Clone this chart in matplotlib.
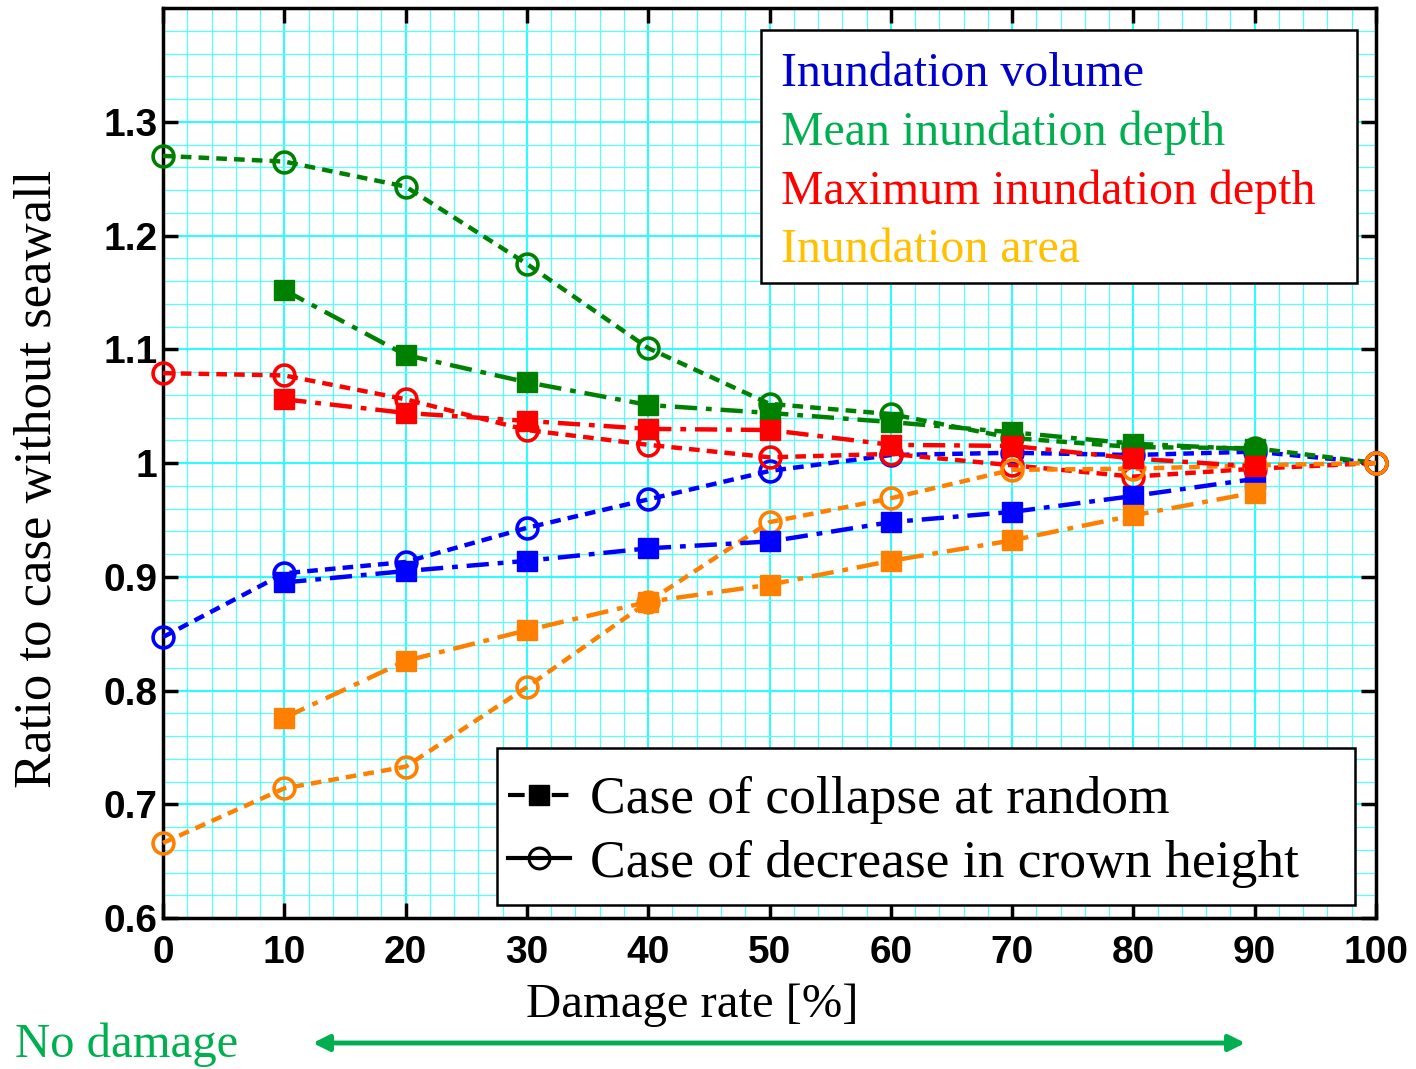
import matplotlib
matplotlib.use("Agg")
import matplotlib.pyplot as plt
from matplotlib.lines import Line2D
from matplotlib.patches import FancyArrowPatch, Rectangle
import numpy as np

# ---------------- data ----------------
damage_all = [0, 10, 20, 30, 40, 50, 60, 70, 80, 90, 100]
damage_rand = [10, 20, 30, 40, 50, 60, 70, 80, 90]

# Case of decrease in crown height (circles)
crown_volume = [0.847, 0.903, 0.913, 0.943, 0.968, 0.993, 1.007, 1.009, 1.007, 1.010, 1.000]
crown_mean = [1.270, 1.265, 1.243, 1.175, 1.101, 1.052, 1.043, 1.022, 1.014, 1.013, 1.000]
crown_max = [1.079, 1.077, 1.056, 1.029, 1.016, 1.005, 1.008, 0.998, 0.988, 0.995, 1.000]
crown_area = [0.666, 0.714, 0.733, 0.803, 0.878, 0.948, 0.969, 0.994, 0.995, 0.998, 1.000]

# Case of collapse at random (squares)
rand_volume = [0.895, 0.905, 0.914, 0.925, 0.931, 0.948, 0.957, 0.971, 0.986]
rand_mean = [1.152, 1.095, 1.071, 1.051, 1.044, 1.036, 1.027, 1.017, 1.012]
rand_max = [1.056, 1.044, 1.037, 1.030, 1.029, 1.016, 1.015, 1.004, 0.997]
rand_area = [0.776, 0.826, 0.853, 0.878, 0.893, 0.914, 0.932, 0.954, 0.974]

series_names = ["Inundation volume", "Mean inundation depth",
                "Maximum inundation depth", "Inundation area"]
case_names = ["Case of collapse at random", "Case of decrease in crown height"]
line_colors = ["#0000FF", "#008000", "#FF0000", "#FF8000"]
text_colors = ["#0000CC", "#00B050", "#FF0000", "#FFC000"]

x_ticks = [0, 10, 20, 30, 40, 50, 60, 70, 80, 90, 100]
y_ticks = [0.6, 0.7, 0.8, 0.9, 1.0, 1.1, 1.2, 1.3]
y_tick_labels = ["0.6", "0.7", "0.8", "0.9", "1", "1.1", "1.2", "1.3"]

# ---------------- figure ----------------
W, H = 1416, 1069
fig = plt.figure(figsize=(W / 100, H / 100), dpi=100)
ax = fig.add_axes([163 / W, 1 - 918 / H, (1376 - 163) / W, (918 - 8) / H])

serif = ["Liberation Serif", "DejaVu Serif"]
sans = ["Liberation Sans", "DejaVu Sans"]

ax.set_xlim(0, 100)
ax.set_ylim(0.6, 1.4)

# grid
ax.set_xticks(np.arange(0, 101, 2), minor=True)
ax.set_yticks(np.arange(0.6, 1.4001, 0.02), minor=True)
ax.grid(which="major", color="#22FFFF", lw=1.4, zorder=0)
ax.grid(which="minor", color="#55FFFF", lw=0.9, zorder=0)
ax.set_axisbelow(True)

crown = [crown_volume, crown_mean, crown_max, crown_area]
rand = [rand_volume, rand_mean, rand_max, rand_area]

for vals, c in zip(crown, line_colors):
    ax.plot(damage_all, vals, color=c, lw=3.2, ls=(0, (2.4, 1.6)),
            marker="o", ms=15, mfc="none", mec=c, mew=2.6, clip_on=False, zorder=3)
for vals, c in zip(rand, line_colors):
    ax.plot(damage_rand, vals, color=c, lw=3.2, ls=(0, (5, 2, 1.3, 2)),
            marker="s", ms=14, mfc=c, mec=c, clip_on=False, zorder=4)

ax.set_xticks(x_ticks)
ax.set_yticks(y_ticks)
ax.set_yticklabels(y_tick_labels)
ax.tick_params(which="major", direction="in", length=11, width=2.5,
               top=True, right=True, labelsize=28, pad=12)
ax.tick_params(which="minor", length=0)
for lab in ax.get_xticklabels() + ax.get_yticklabels():
    lab.set_fontfamily(sans)
    lab.set_fontweight("bold")
ax.tick_params(axis="y", pad=4)
for s in ax.spines.values():
    s.set_linewidth(2.5)

# axis labels
fig.text(38 / W, 1 - 479 / H, "Ratio to case without seawall", rotation=90,
         ha="center", va="center", fontsize=38, family=serif)
fig.text(692 / W, 1 - 1005 / H, "Damage rate [%]", ha="center", va="center",
         fontsize=35, family=serif)
fig.text(15 / W, 1 - 1045 / H, "No damage", ha="left", va="center",
         fontsize=35, family=serif, color="#00B050")
arrow = FancyArrowPatch((310 / W, 1 - 1043 / H), (1248 / W, 1 - 1043 / H),
                        transform=fig.transFigure, arrowstyle="<|-|>",
                        mutation_scale=24, color="#00B050", lw=3.5)
fig.add_artist(arrow)

# legend frames
for (x0, y0, x1, y1) in [(761, 30, 1357, 283), (497, 748, 1355, 905)]:
    fig.add_artist(Rectangle((x0 / W, 1 - y1 / H), (x1 - x0) / W, (y1 - y0) / H,
                             transform=fig.transFigure, facecolor="white",
                             edgecolor="black", lw=1.8, zorder=5))

# legend 1 (colored texts)
h1 = [Line2D([], [], ls="none") for _ in series_names]
leg1 = fig.legend(h1, series_names, loc="upper left",
                  bbox_to_anchor=(781 / W, 1 - 52 / H), bbox_transform=fig.transFigure,
                  borderaxespad=0, handlelength=0, handletextpad=0,
                  prop={"family": serif, "size": 34.5}, labelspacing=0.3,
                  frameon=False, borderpad=0)
leg1.set_zorder(6)
for t, c in zip(leg1.get_texts(), text_colors):
    t.set_color(c)

# legend 2 (case styles)
h2 = [Line2D([], [], color="black", lw=3, ls=(0, (4, 1.5, 1, 1.5, 1, 1.5)), marker="s", ms=14),
      Line2D([], [], color="black", lw=3, ls="-", marker="o", ms=15, mfc="none", mew=2.2)]
leg2 = fig.legend(h2, case_names, loc="upper left", bbox_to_anchor=(508 / W, 1 - 776 / H),
                  bbox_transform=fig.transFigure, borderaxespad=0,
                  prop={"family": serif, "size": 38.5}, handlelength=1.16,
                  handletextpad=0.37, labelspacing=0.28, frameon=False, borderpad=0)
leg2.set_zorder(6)

fig.savefig("out.png", dpi=100)
